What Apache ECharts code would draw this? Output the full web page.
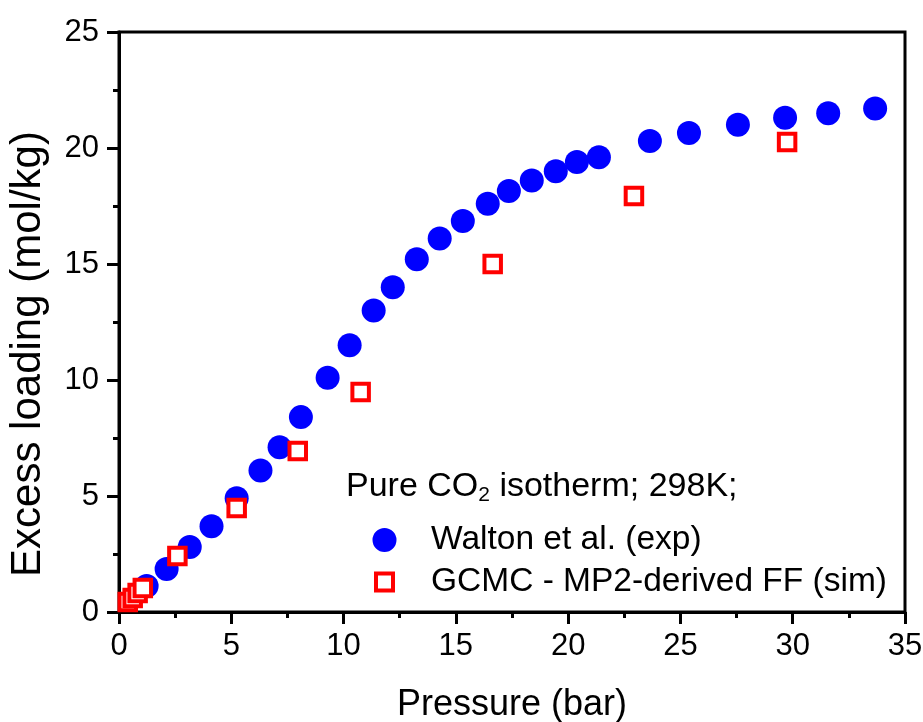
<!DOCTYPE html>
<html>
<head>
<meta charset="utf-8">
<script src="https://cdn.jsdelivr.net/npm/echarts@6/dist/echarts.min.js"></script>
<style>html,body{margin:0;padding:0;background:#fff}#c{width:923px;height:722px}</style>
</head>
<body>
<div id="c"></div>
<script>
var expP = [1.23, 2.12, 3.15, 4.12, 5.24, 6.3, 7.15, 8.1, 9.29, 10.27, 11.34, 12.19, 13.26, 14.28, 15.31, 16.42, 17.36, 18.38, 19.45, 20.39, 21.37, 23.64, 25.38, 27.56, 29.66, 31.58, 33.67];
var expL = [1.12, 1.85, 2.8, 3.7, 4.9, 6.1, 7.1, 8.4, 10.1, 11.5, 13.0, 14.0, 15.2, 16.1, 16.85, 17.6, 18.15, 18.6, 19.0, 19.4, 19.6, 20.3, 20.65, 21.0, 21.3, 21.5, 21.7];
var simP = [0.39, 0.61, 0.83, 1.06, 2.6, 5.24, 7.96, 10.76, 16.64, 22.93, 29.75];
var simL = [0.43, 0.6, 0.82, 1.03, 2.41, 4.48, 6.94, 9.48, 15.0, 17.93, 20.26];
var xTicks = {min: 0, max: 35, interval: 5};
var yTicks = {min: 0, max: 25, interval: 5};

function pairs(a, b) { return a.map(function (v, i) { return [v, b[i]]; }); }

var font = 'Liberation Sans, Arial, sans-serif';
var chart = echarts.init(document.getElementById('c'));
chart.setOption({
  animation: false,
  grid: {left: 119, right: 18, top: 32, bottom: 110, containLabel: false, outerBoundsMode: 'none',
         show: true, borderColor: '#000', borderWidth: 3, backgroundColor: 'transparent'},
  xAxis: {
    type: 'value', min: xTicks.min, max: xTicks.max, interval: xTicks.interval,
    name: 'Pressure (bar)', nameLocation: 'middle', nameGap: 75,
    nameTextStyle: {fontFamily: font, fontSize: 36, color: '#000'},
    axisLine: {lineStyle: {color: '#000', width: 3}},
    axisTick: {inside: false, length: 12, lineStyle: {color: '#000', width: 3}},
    minorTick: {show: true, splitNumber: 2, length: 6, lineStyle: {color: '#000', width: 3}},
    axisLabel: {fontFamily: font, fontSize: 31, color: '#000', margin: 19},
    splitLine: {show: false}
  },
  yAxis: {
    type: 'value', min: yTicks.min, max: yTicks.max, interval: yTicks.interval,
    axisLine: {lineStyle: {color: '#000', width: 3}},
    axisTick: {inside: false, length: 12, lineStyle: {color: '#000', width: 3}},
    minorTick: {show: true, splitNumber: 2, length: 6, lineStyle: {color: '#000', width: 3}},
    axisLabel: {fontFamily: font, fontSize: 31, color: '#000', margin: 20},
    splitLine: {show: false}
  },
  legend: {
    orient: 'vertical', left: 372.5, top: 523, padding: 0, itemGap: 8, itemWidth: 17, itemHeight: 17,
    textStyle: {fontFamily: font, fontSize: 33.5, color: '#000', padding: [0, 0, 0, 33]},
    data: [
      {name: 'Walton et al. (exp)', icon: 'circle', itemStyle: {color: '#0000ff', borderColor: '#0000ff', borderWidth: 7}},
      {name: 'GCMC - MP2-derived FF (sim)', icon: 'rect', itemStyle: {color: '#fff', borderColor: '#ff0000', borderWidth: 4}}
    ]
  },
  graphic: [{
    type: 'text', left: 346, top: 470,
    style: {
      text: 'Pure CO{sub|2} isotherm; 298K;',
      fontFamily: font, fontSize: 34, fill: '#000',
      rich: {sub: {fontFamily: font, fontSize: 21, fill: '#000', verticalAlign: 'bottom', padding: [16, 0, 0, 0]}}
    }
  }, {
    type: 'text', x: 28, y: 354, rotation: Math.PI / 2,
    style: {
      text: 'Excess loading (mol/kg)', fontFamily: font, fontSize: 42, fill: '#000',
      align: 'center', verticalAlign: 'middle'
    }
  }],
  series: [
    {
      name: 'Walton et al. (exp)', type: 'scatter', symbol: 'circle', symbolSize: 24,
      itemStyle: {color: '#0000ff', opacity: 1},
      data: pairs(expP, expL), z: 2
    },
    {
      name: 'GCMC - MP2-derived FF (sim)', type: 'scatter', symbol: 'rect', symbolSize: 16.5,
      itemStyle: {color: '#fff', borderColor: '#ff0000', borderWidth: 4, opacity: 1},
      data: pairs(simP, simL), z: 3
    }
  ]
});
</script>
</body>
</html>
